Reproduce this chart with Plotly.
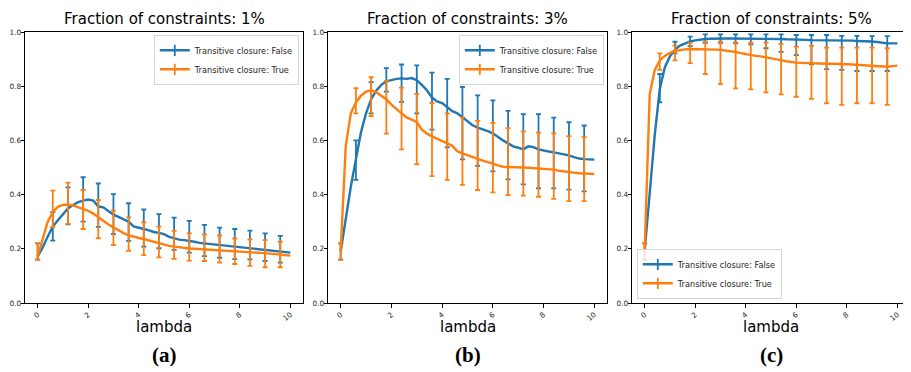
import plotly.graph_objects as go
import numpy as np

# ---------------- data ----------------
lam = [0.0, 0.2, 0.4, 0.6, 0.8, 1.0, 1.2, 1.4, 1.6, 1.8,
       2.0, 2.2, 2.4, 2.6, 2.8, 3.0, 3.2, 3.4, 3.6, 3.8,
       4.0, 4.2, 4.4, 4.6, 4.8, 5.0, 5.2, 5.4, 5.6, 5.8,
       6.0, 6.2, 6.4, 6.6, 6.8, 7.0, 7.2, 7.4, 7.6, 7.8,
       8.0, 8.2, 8.4, 8.6, 8.8, 9.0, 9.2, 9.4, 9.6, 9.8, 10.0]
err_every = 3  # error bar drawn on every 3rd lambda (0, 0.6, ..., 9.6)

titles = ["Fraction of constraints: 1%", "Fraction of constraints: 3%", "Fraction of constraints: 5%"]
panel_labels = ["(a)", "(b)", "(c)"]
series_names = ["Transitive closure: False", "Transitive closure: True"]
x_ticks = [0, 2, 4, 6, 8, 10]
y_ticks = [0.0, 0.2, 0.4, 0.6, 0.8, 1.0]

# ---- panel (a): 1% ----
a_false = [0.172, 0.205, 0.245, 0.282, 0.305, 0.328, 0.349, 0.362, 0.372, 0.378,
           0.382, 0.378, 0.356, 0.353, 0.340, 0.326, 0.318, 0.310, 0.300, 0.283,
           0.279, 0.273, 0.268, 0.262, 0.259, 0.254, 0.244, 0.238, 0.234, 0.232,
           0.230, 0.226, 0.222, 0.220, 0.218, 0.217, 0.215, 0.213, 0.211, 0.209,
           0.207, 0.205, 0.202, 0.200, 0.197, 0.195, 0.193, 0.191, 0.189, 0.187, 0.186]
a_true = [0.172, 0.235, 0.300, 0.336, 0.355, 0.362, 0.363, 0.360, 0.354, 0.347,
          0.340, 0.330, 0.316, 0.302, 0.290, 0.279, 0.268, 0.258, 0.250, 0.244,
          0.240, 0.236, 0.231, 0.225, 0.219, 0.215, 0.211, 0.208, 0.205, 0.203,
          0.201, 0.200, 0.199, 0.198, 0.197, 0.196, 0.195, 0.194, 0.193, 0.192,
          0.191, 0.190, 0.189, 0.187, 0.185, 0.184, 0.182, 0.180, 0.178, 0.176, 0.175]
a_false_lo = [0.16, 0.23, 0.29, 0.30, 0.281, 0.254, 0.229, 0.208, 0.202, 0.196, 0.186, 0.173, 0.167, 0.162, 0.161, 0.155, 0.149]
a_false_hi = [0.22, 0.335, 0.427, 0.464, 0.441, 0.402, 0.368, 0.345, 0.328, 0.315, 0.303, 0.288, 0.278, 0.273, 0.267, 0.257, 0.248]
a_true_lo = [0.16, 0.28, 0.292, 0.273, 0.239, 0.214, 0.192, 0.177, 0.168, 0.163, 0.156, 0.155, 0.149, 0.144, 0.137, 0.132, 0.132]
a_true_hi = [0.22, 0.415, 0.444, 0.417, 0.38, 0.341, 0.316, 0.298, 0.282, 0.266, 0.257, 0.253, 0.249, 0.238, 0.235, 0.232, 0.226]

# ---- panel (b): 3% ----
b_false = [0.19, 0.31, 0.43, 0.53, 0.63, 0.70, 0.752, 0.783, 0.805, 0.818,
           0.823, 0.827, 0.829, 0.827, 0.830, 0.822, 0.805, 0.785, 0.758, 0.744,
           0.738, 0.722, 0.708, 0.700, 0.686, 0.670, 0.656, 0.647, 0.641, 0.634,
           0.626, 0.612, 0.600, 0.589, 0.578, 0.573, 0.567, 0.578, 0.575, 0.567,
           0.562, 0.559, 0.556, 0.552, 0.549, 0.545, 0.538, 0.533, 0.531, 0.530, 0.529]
b_true = [0.19, 0.58, 0.70, 0.74, 0.765, 0.78, 0.785, 0.778, 0.765, 0.752,
          0.732, 0.715, 0.700, 0.685, 0.675, 0.668, 0.640, 0.625, 0.615, 0.607,
          0.598, 0.589, 0.580, 0.560, 0.552, 0.546, 0.538, 0.532, 0.525, 0.518,
          0.514, 0.508, 0.503, 0.502, 0.502, 0.501, 0.500, 0.499, 0.498, 0.497,
          0.495, 0.493, 0.492, 0.488, 0.485, 0.483, 0.481, 0.479, 0.478, 0.477, 0.476]
b_false_lo = [0.16, 0.454, 0.70, 0.78, 0.742, 0.70, 0.64, 0.574, 0.530, 0.506, 0.486, 0.456, 0.438, 0.423, 0.423, 0.418, 0.412]
b_false_hi = [0.22, 0.600, 0.815, 0.867, 0.880, 0.877, 0.850, 0.827, 0.797, 0.766, 0.748, 0.709, 0.697, 0.697, 0.684, 0.667, 0.655]
b_true_lo = [0.16, 0.70, 0.69, 0.625, 0.567, 0.512, 0.468, 0.454, 0.436, 0.417, 0.408, 0.398, 0.396, 0.392, 0.384, 0.376, 0.376]
b_true_hi = [0.22, 0.793, 0.833, 0.82, 0.795, 0.772, 0.738, 0.70, 0.685, 0.672, 0.665, 0.645, 0.633, 0.629, 0.626, 0.616, 0.612]

# ---- panel (c): 5% ----
c_false = [0.19, 0.40, 0.62, 0.79, 0.87, 0.91, 0.935, 0.950, 0.959, 0.965,
           0.969, 0.972, 0.974, 0.975, 0.976, 0.976, 0.976, 0.976, 0.976, 0.976,
           0.975, 0.975, 0.975, 0.975, 0.975, 0.974, 0.974, 0.974, 0.973, 0.973,
           0.973, 0.972, 0.971, 0.970, 0.970, 0.970, 0.969, 0.969, 0.969, 0.969,
           0.968, 0.968, 0.967, 0.967, 0.966, 0.965, 0.963, 0.960, 0.958, 0.958, 0.958]
c_true = [0.19, 0.77, 0.86, 0.895, 0.912, 0.923, 0.930, 0.934, 0.936, 0.937,
          0.937, 0.936, 0.936, 0.935, 0.935, 0.934, 0.932, 0.930, 0.926, 0.922,
          0.918, 0.914, 0.912, 0.910, 0.907, 0.904, 0.900, 0.896, 0.892, 0.889,
          0.887, 0.886, 0.885, 0.884, 0.884, 0.883, 0.883, 0.883, 0.883, 0.882,
          0.881, 0.880, 0.879, 0.877, 0.875, 0.874, 0.873, 0.872, 0.872, 0.874, 0.876]
c_false_lo = [0.16, 0.74, 0.921, 0.948, 0.960, 0.960, 0.958, 0.954, 0.940, 0.927, 0.915, 0.881, 0.863, 0.860, 0.856, 0.856, 0.856]
c_false_hi = [0.22, 0.845, 0.964, 0.983, 0.991, 0.991, 0.991, 0.991, 0.991, 0.991, 0.989, 0.989, 0.989, 0.986, 0.986, 0.985, 0.985]
c_true_lo = [0.16, 0.86, 0.895, 0.885, 0.845, 0.808, 0.792, 0.788, 0.777, 0.770, 0.761, 0.753, 0.737, 0.731, 0.737, 0.737, 0.731]
c_true_hi = [0.22, 0.921, 0.95, 0.96, 0.964, 0.964, 0.962, 0.961, 0.961, 0.956, 0.946, 0.949, 0.942, 0.942, 0.942, 0.942, 0.940]

panels = [
    (a_false, a_true, a_false_lo, a_false_hi, a_true_lo, a_true_hi),
    (b_false, b_true, b_false_lo, b_false_hi, b_true_lo, b_true_hi),
    (c_false, c_true, c_false_lo, c_false_hi, c_true_lo, c_true_hi),
]

# ---------------- style ----------------
# the page body has an 8px margin, so the figure is sized to fit the window
OFF = 8
W, H = 911 - OFF, 372 - OFF


def px(xp):  # page x pixel -> paper fraction
    return (xp - OFF) / W


def py(yp):  # page y pixel (from top) -> paper fraction
    return (H - (yp - OFF)) / H


colors = ["#1f77b4", "#ff7f0e"]
FONT = "DejaVu Sans"
x_dom = [(px(25), px(303)), (px(328), px(607)), (px(632), px(910))]
y_dom = (py(303), py(32))
legend_pos = [
    dict(x=px(299), y=py(35), xanchor="right", yanchor="top"),
    dict(x=px(604), y=py(35), xanchor="right", yanchor="top"),
    dict(x=px(637), y=py(299), xanchor="left", yanchor="bottom"),
]
legend_keys = ["legend", "legend2", "legend3"]

fig = go.Figure()
x_arr = np.array(lam)
x_err = x_arr[::err_every]

for i, (yf, yt, flo, fhi, tlo, thi) in enumerate(panels):
    xa = "x" if i == 0 else f"x{i+1}"
    ya = "y" if i == 0 else f"y{i+1}"
    for s, (yl, lo, hi) in enumerate([(yf, flo, fhi), (yt, tlo, thi)]):
        col = colors[s]
        yl = np.array(yl)
        yc = yl[::err_every]
        lo = np.array(lo)
        hi = np.array(hi)
        fig.add_trace(go.Scatter(
            x=x_arr, y=yl, mode="lines", line=dict(color=col, width=2.4),
            xaxis=xa, yaxis=ya, showlegend=False, hoverinfo="skip"))
        fig.add_trace(go.Scatter(
            x=x_err, y=yc, mode="markers", marker=dict(size=1, color=col),
            error_y=dict(type="data", symmetric=False,
                         array=np.clip(hi - yc, 0, None),
                         arrayminus=np.clip(yc - lo, 0, None),
                         color=col, thickness=1.8, width=2.5),
            xaxis=xa, yaxis=ya, showlegend=False, hoverinfo="skip"))
    # legend-only entries
    for s in range(2):
        fig.add_trace(go.Scatter(
            x=[None], y=[None], mode="lines+markers", name=series_names[s],
            line=dict(color=colors[s], width=2.4),
            marker=dict(symbol="line-ns-open", size=8, color=colors[s],
                        line=dict(color=colors[s], width=1.8)),
            xaxis=xa, yaxis=ya, legend=legend_keys[i]))

axis_common = dict(showline=True, mirror=True, linecolor="black", linewidth=1,
                   ticks="outside", ticklen=3.5, tickwidth=0.8, tickcolor="black",
                   showgrid=False, zeroline=False, automargin=False,
                   tickfont=dict(family=FONT, size=7.3, color="#262626"))

layout = dict(width=W, height=H, margin=dict(l=0, r=0, t=0, b=0, autoexpand=False),
              paper_bgcolor="white", plot_bgcolor="white",
              font=dict(family=FONT, color="#000"))
annotations = []
for i in range(3):
    xk = "xaxis" if i == 0 else f"xaxis{i+1}"
    yk = "yaxis" if i == 0 else f"yaxis{i+1}"
    layout[xk] = dict(domain=list(x_dom[i]), range=[-0.5, 10.5], tickvals=x_ticks,
                      tickangle=-40, anchor="y" if i == 0 else f"y{i+1}", **axis_common)
    layout[yk] = dict(domain=list(y_dom), range=[0, 1], tickvals=y_ticks, tickformat=".1f",
                      ticklabelstandoff=-2,
                      anchor="x" if i == 0 else f"x{i+1}", **axis_common)
    lk = legend_keys[i]
    layout[lk] = dict(**legend_pos[i], bgcolor="rgba(255,255,255,0.8)",
                      bordercolor="#cccccc", borderwidth=0.8,
                      font=dict(family=FONT, size=8.2, color="#262626"),
                      itemwidth=30, tracegroupgap=0)
    cx = (x_dom[i][0] + x_dom[i][1]) / 2
    annotations.append(dict(text=titles[i], x=cx, y=py(8.5), xref="paper", yref="paper",
                            showarrow=False, xanchor="center", yanchor="top", borderpad=0,
                            font=dict(family=FONT, size=15, color="#000")))
    annotations.append(dict(text="lambda", x=cx, y=py(327), xref="paper", yref="paper",
                            showarrow=False, xanchor="center", yanchor="middle",
                            font=dict(family=FONT, size=15, color="#000")))
    annotations.append(dict(text="<b>" + panel_labels[i] + "</b>", x=cx, y=py(355),
                            xref="paper", yref="paper", showarrow=False,
                            xanchor="center", yanchor="middle",
                            font=dict(family="Liberation Serif", size=21, color="#000")))
layout["annotations"] = annotations
fig.update_layout(**layout)

fig.write_html("out.html")
